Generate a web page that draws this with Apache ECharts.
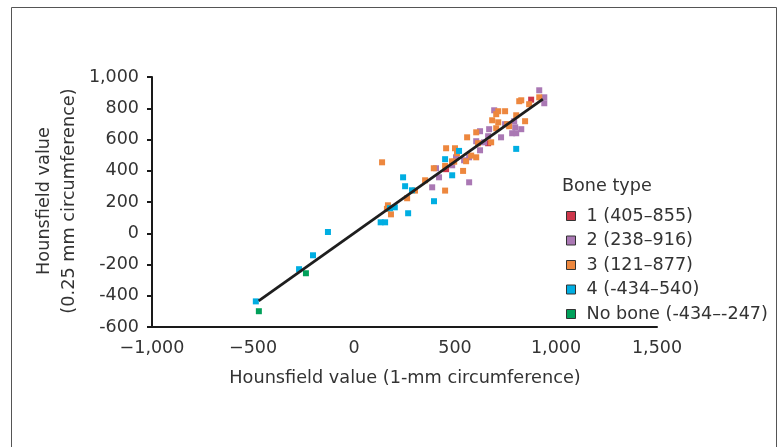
<!DOCTYPE html>
<html>
<head>
<meta charset="utf-8">
<script src="https://cdn.jsdelivr.net/npm/echarts@6/dist/echarts.min.js"></script>
<style>
  html, body { margin: 0; padding: 0; background: #fff; }
  #chart { width: 778px; height: 447px; }
</style>
</head>
<body>
<div id="chart"></div>
<script>
// ---- Data (x = 1-mm circumference HU, y = 0.25-mm circumference HU) ----
const seriesNames = ['1 (405\u2013855)', '2 (238\u2013916)', '3 (121\u2013877)', '4 (-434\u2013540)', 'No bone (-434\u2013-247)'];

const type1Points = [[456, 410], [664, 576], [877, 855]];

const type2Points = [
  [387, 294], [406, 416], [421, 358], [486, 435], [545, 467], [505, 486], [570, 326],
  [570, 486], [624, 531], [624, 653], [605, 589], [644, 582], [664, 621], [669, 666],
  [694, 787], [728, 614], [748, 698], [793, 717], [798, 678], [828, 666], [783, 640],
  [803, 640], [917, 915], [942, 870], [942, 832]
];

const type3Points = [
  [139, 454], [352, 339], [302, 273], [263, 224], [168, 179], [163, 156], [183, 121],
  [451, 273], [395, 416], [451, 431], [496, 458], [540, 399], [555, 461], [456, 544],
  [500, 544], [510, 512], [580, 497], [605, 486], [560, 614], [605, 646], [614, 576],
  [679, 582], [684, 723], [704, 672], [714, 710], [704, 762], [714, 781], [748, 781],
  [758, 698], [768, 685], [803, 755], [847, 717], [818, 845], [828, 851], [867, 826],
  [917, 870], [485, 460]
];

const type4Points = [
  [-486, -436], [-272, -230], [-203, -141], [-129, 8], [132, 70], [154, 70], [178, 160],
  [202, 166], [243, 358], [253, 301], [287, 275], [268, 128], [396, 205], [451, 474],
  [486, 371], [520, 527], [803, 540]
];

const noBonePoints = [[-471, -499], [-238, -256]];

const trendLine = [[-472, -433], [935, 859]];

const xTickLabels = ['\u22121,000', '\u2212500', '0', '500', '1,000', '1,500'];
const yTickLabels = ['-600', '-400', '-200', '0', '200', '400', '600', '800', '1,000'];

const seriesColors = ['#cd374b', '#aa78b4', '#ed873e', '#00aee2', '#00a05a'];

// ---- Chart ----
const FONT = 'DejaVu Sans';
const TXT = '#333333';
const chart = echarts.init(document.getElementById('chart'), null, { renderer: 'canvas' });

const xMin = -1000, xStep = 500;
const yMin = -600, yStep = 200;

const pointSets = [type1Points, type2Points, type3Points, type4Points, noBonePoints];

const scatterSeries = pointSets.map((pts, i) => ({
  name: seriesNames[i],
  type: 'scatter',
  symbol: 'rect',
  symbolSize: 6,
  data: pts,
  itemStyle: { color: seriesColors[i], opacity: 1 },
  z: 2
}));

const option = {
  animation: false,
  backgroundColor: '#ffffff',
  textStyle: { fontFamily: FONT },
  grid: { left: 152, right: 121, top: 77, bottom: 120, containLabel: false },
  xAxis: {
    type: 'value',
    min: -1000, max: 1500, interval: 500,
    splitLine: { show: false },
    axisLine: { show: true, onZero: false, lineStyle: { color: '#1a1a1a', width: 2 } },
    axisTick: { show: false },
    axisLabel: {
      color: TXT, fontSize: 17.5, fontFamily: FONT, margin: 12,
      formatter: v => xTickLabels[Math.round((v - xMin) / xStep)]
    }
  },
  yAxis: {
    type: 'value',
    min: -600, max: 1000, interval: 200,
    splitLine: { show: false },
    axisLine: { show: true, onZero: false, lineStyle: { color: '#1a1a1a', width: 2 } },
    axisTick: { show: true, inside: false, length: 5, lineStyle: { color: '#1a1a1a', width: 2 } },
    axisLabel: {
      color: TXT, fontSize: 17.5, fontFamily: FONT, margin: 13,
      formatter: v => yTickLabels[Math.round((v - yMin) / yStep)]
    }
  },
  legend: {
    data: seriesNames,
    orient: 'vertical',
    left: 561, top: 202,
    itemWidth: 9, itemHeight: 9,
    itemGap: 6.5,
    icon: 'rect',
    selectedMode: false,
    itemStyle: { borderColor: '#333', borderWidth: 1 },
    textStyle: { color: TXT, fontSize: 17.6, fontFamily: FONT, lineHeight: 18, padding: [0, 0, 0, 6] }
  },
  graphic: [
    {
      type: 'rect', silent: true, z: -10,
      shape: { x: 11.5, y: 7.5, width: 765, height: 460 },
      style: { fill: 'none', stroke: '#555', lineWidth: 1 }
    },
    {
      type: 'text', silent: true,
      x: 562, y: 186,
      style: {
        text: 'Bone type', fill: TXT, fontSize: 17.6, fontFamily: FONT,
        align: 'left', verticalAlign: 'middle', textAlign: 'left', textVerticalAlign: 'middle'
      }
    },
    {
      type: 'text', silent: true,
      x: 405, y: 378,
      style: {
        text: 'Hounsfield value (1-mm circumference)', fill: TXT, fontSize: 17.7, fontFamily: FONT,
        align: 'center', verticalAlign: 'middle', textAlign: 'center', textVerticalAlign: 'middle'
      }
    },
    {
      type: 'text', silent: true,
      x: 57, y: 201, rotation: Math.PI / 2,
      style: {
        text: 'Hounsfield value\n(0.25 mm circumference)', fill: TXT, fontSize: 17.7, fontFamily: FONT,
        lineHeight: 25,
        align: 'center', verticalAlign: 'middle', textAlign: 'center', textVerticalAlign: 'middle'
      }
    }
  ],
  series: scatterSeries.concat([{
    name: 'Trend',
    type: 'line',
    data: trendLine,
    showSymbol: false,
    symbol: 'none',
    lineStyle: { color: '#1e1e1e', width: 2.8 },
    z: 5,
    silent: true
  }])
};

chart.setOption(option);
</script>
</body>
</html>
